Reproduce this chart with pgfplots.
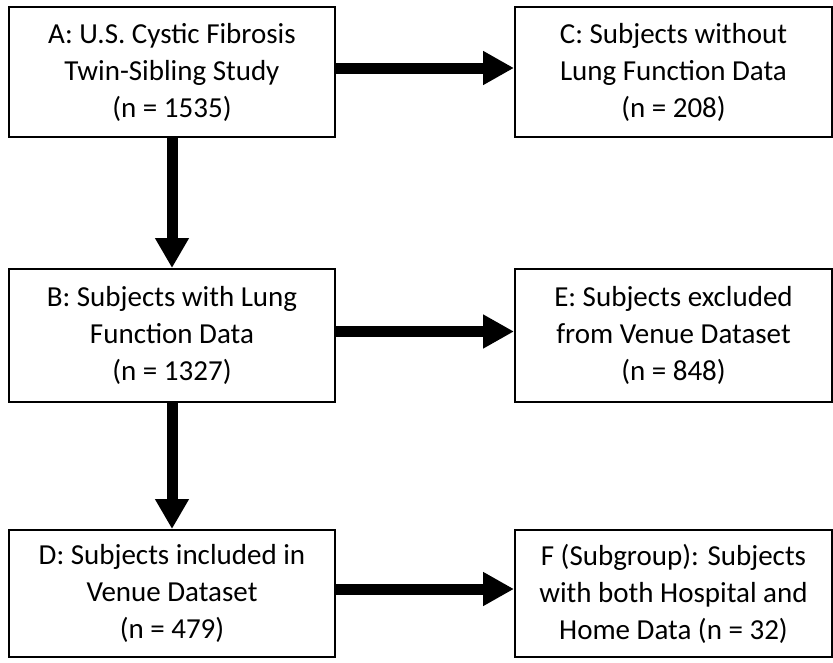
\documentclass[border=0pt]{standalone}
\usepackage{pgfplots}
\pgfplotsset{compat=1.18}
\usepackage{fontspec}
\setmainfont{Carlito}
\usetikzlibrary{arrows.meta}
\tikzset{box/.style={draw=black, line width=2pt, align=center, inner sep=0pt,
    font=\fontsize{29}{37}\selectfont, fill=white}}
\begin{document}
\begin{tikzpicture}
\begin{axis}[
  width=833pt, height=662pt, scale only axis,
  xmin=0, xmax=833, ymin=0, ymax=662, y dir=reverse,
  hide axis, clip=false,
]
\path (axis cs:0,0) rectangle (axis cs:833,662);
% arrows
\addplot[black, line width=11pt, -{Triangle[length=30pt,width=32pt]}] coordinates {(172,137) (172,268)};
\addplot[black, line width=11pt, -{Triangle[length=30pt,width=32pt]}] coordinates {(172,402) (172,529)};
\addplot[black, line width=11pt, -{Triangle[length=31pt,width=32pt]}] coordinates {(335,68) (514,68)};
\addplot[black, line width=11pt, -{Triangle[length=31pt,width=32pt]}] coordinates {(335,331.5) (514,331.5)};
\addplot[black, line width=11pt, -{Triangle[length=31pt,width=32pt]}] coordinates {(335,589) (514,589)};
% boxes
\node[box, minimum width=326pt, minimum height=130pt] at (axis cs:172,72)
  {A: U.S. Cystic Fibrosis\\Twin-Sibling Study\\(n = 1535)};
\node[box, minimum width=317pt, minimum height=130pt] at (axis cs:673.5,72)
  {C: Subjects without\\Lung Function Data\\(n = 208)};
\node[box, minimum width=326pt, minimum height=133pt] at (axis cs:172,335.5)
  {B: Subjects with Lung\\Function Data\\(n = 1327)};
\node[box, minimum width=317pt, minimum height=133pt] at (axis cs:673.5,335.5)
  {E: Subjects excluded\\from Venue Dataset\\(n = 848)};
\node[box, minimum width=326pt, minimum height=127pt] at (axis cs:172,593.5)
  {D: Subjects included in\\Venue Dataset\\(n = 479)};
\node[box, minimum width=317pt, minimum height=127pt] at (axis cs:673.5,593.5)
  {F (Subgroup): Subjects\\with both Hospital and\\Home Data (n = 32)};
\end{axis}
\end{tikzpicture}
\end{document}
